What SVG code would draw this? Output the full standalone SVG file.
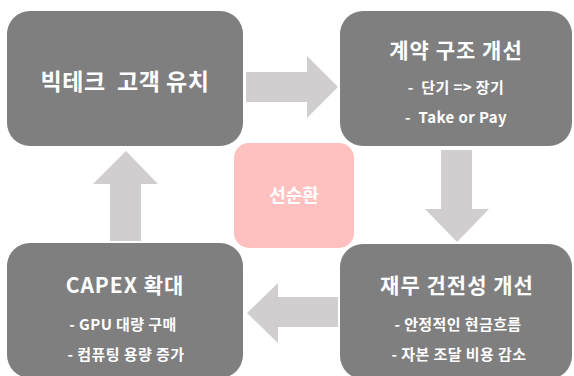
<svg xmlns="http://www.w3.org/2000/svg" width="574" height="376" viewBox="0 0 574 376">
  <style>
    .box { fill: #7f7f7f; }
    .hub { fill: #ffc0c0; }
    .arrow { fill: #d0cece; }
    text { font-family: "Noto Sans CJK KR", "Noto Sans", sans-serif; fill: #ffffff; text-anchor: middle; }
    .title { font-size: 21px; font-weight: 700; letter-spacing: 1px; }
    .big { font-size: 23px; font-weight: 700; letter-spacing: 0.5px; }
    .item { font-size: 15px; font-weight: 700; letter-spacing: 0.4px; }
    .hubtext { font-size: 18px; font-weight: 700; }
  </style>
  <rect width="574" height="376" fill="#ffffff"/>

  <!-- flow arrows -->
  <g id="connectors">
    <!-- top: left to right -->
    <polygon class="arrow" points="246,72 307,72 307,56 338,87 307,118 307,102 246,102"/>
    <!-- right: top to bottom -->
    <polygon class="arrow" points="441,150 472,150 472,209 489,209 457,242 425,209 441,209"/>
    <!-- bottom: right to left -->
    <polygon class="arrow" points="338,297 278,297 278,283 247,313 278,343 278,327 338,327"/>
    <!-- left: bottom to top -->
    <polygon class="arrow" points="110,241 141,241 141,184 158,184 126,151 93,184 110,184"/>
  </g>

  <g id="node-bigtech">
    <rect class="box" x="7" y="11" width="236" height="135" rx="23"/>
    <text class="big" x="125" y="90" xml:space="preserve">빅테크  고객 유치</text>
  </g>

  <g id="node-contract">
    <rect class="box" x="340" y="11" width="232" height="135" rx="23"/>
    <text class="title" x="456" y="58">계약 구조 개선</text>
    <text class="item" x="456" y="93" xml:space="preserve">-  단기 =&gt; 장기</text>
    <text class="item" x="456" y="123" xml:space="preserve">-  Take or Pay</text>
  </g>

  <g id="node-finance">
    <rect class="box" x="340" y="244" width="232" height="135" rx="23"/>
    <text class="title" x="457" y="293">재무 건전성 개선</text>
    <text class="item" x="458" y="330">- 안정적인 현금흐름</text>
    <text class="item" x="459" y="360">- 자본 조달 비용 감소</text>
  </g>

  <g id="node-capex">
    <rect class="box" x="7" y="243" width="236" height="135" rx="23"/>
    <text class="title" x="125" y="293">CAPEX 확대</text>
    <text class="item" x="123" y="330">- GPU 대량 구매</text>
    <text class="item" x="126" y="360">- 컴퓨팅 용량 증가</text>
  </g>

  <g id="node-cycle">
    <rect class="hub" x="234" y="143" width="120" height="105" rx="15"/>
    <text class="hubtext" x="294" y="202">선순환</text>
  </g>
</svg>
